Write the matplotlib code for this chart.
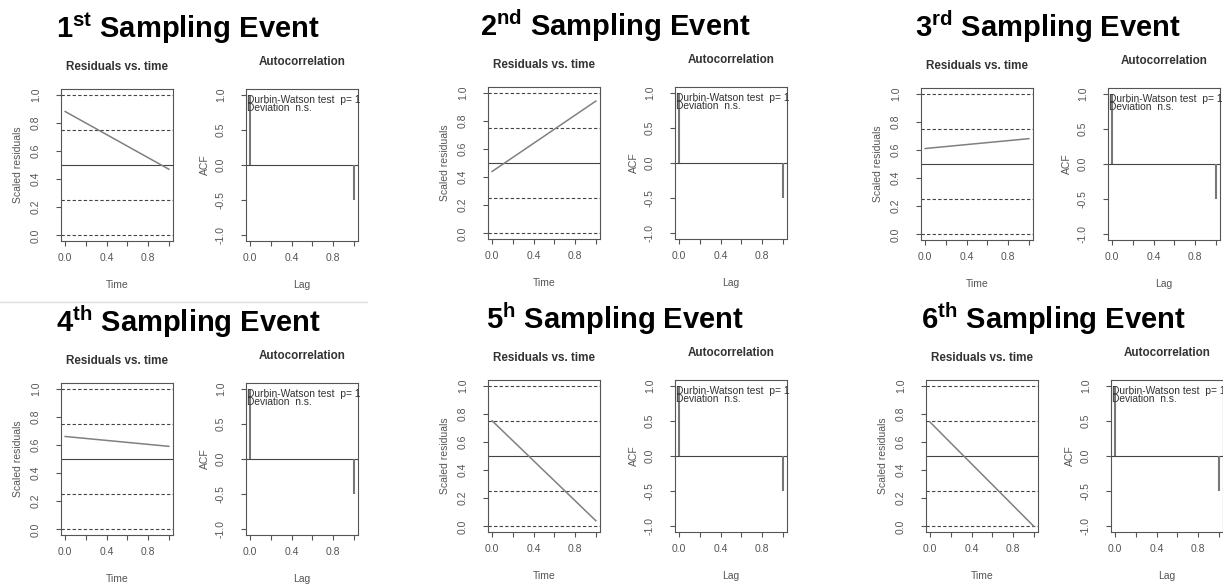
import matplotlib
matplotlib.use("Agg")
import matplotlib.pyplot as plt
from matplotlib.lines import Line2D

plt.rcParams['font.family'] = ['Liberation Sans', 'DejaVu Sans']
plt.rcParams['mathtext.fontset'] = 'custom'
plt.rcParams['mathtext.rm'] = 'Liberation Sans:bold'
plt.rcParams['mathtext.bf'] = 'Liberation Sans:bold'

# Daten der sechs Probenahmen
event_nums = ["1", "2", "3", "4", "5", "6"]
event_suffix = ["st", "nd", "rd", "th", "h", "th"]
time_pts = [0.0, 1.0]
resid_start = [0.88, 0.44, 0.61, 0.66, 0.75, 0.74]
resid_end = [0.47, 0.94, 0.68, 0.59, 0.04, 0.00]
quantiles = [0.0, 0.25, 0.5, 0.75, 1.0]
acf_lags = [0, 1]
acf_vals = [1.0, -0.5]
dw_p = ["1", "1", "1", "1", "1", "1"]
dw_dev = ["n.s.", "n.s.", "n.s.", "n.s.", "n.s.", "n.s."]

res_ticks = [0.0, 0.2, 0.4, 0.6, 0.8, 1.0]
res_tick_labels = ["0.0", "0.2", "0.4", "0.6", "0.8", "1.0"]
x_ticks = [0.0, 0.2, 0.4, 0.6, 0.8, 1.0]
x_tick_labels = ["0.0", "", "0.4", "", "0.8", ""]
acf_ticks = [-1.0, -0.5, 0.0, 0.5, 1.0]
acf_tick_labels = ["-1.0", "-0.5", "0.0", "0.5", "1.0"]

# Layout in Pixeln
W, H = 1223, 585
res_left = [61, 488, 921, 61, 488, 926]
acf_left = [246, 675, 1108, 246, 675, 1111]
box_top = [89, 87, 88, 383, 380, 380]
box_w, box_h = 112, 152

fig = plt.figure(figsize=(W / 100, H / 100), dpi=100)

axis_col = "#555555"
text_col = "#555555"


def rect(left, top):
    return [left / W, 1 - (top + box_h) / H, box_w / W, box_h / H]


def style(ax):
    for s in ax.spines.values():
        s.set_color(axis_col)
        s.set_linewidth(0.8)
    ax.tick_params(axis='both', direction='out', length=3.6, width=0.8,
                   color=axis_col, labelcolor=text_col, labelsize=7.5)
    ax.tick_params(axis='x', pad=5)
    ax.tick_params(axis='y', pad=11)
    plt.setp(ax.get_yticklabels(), rotation=90, va='center')


def ftext(x, y, s, **kw):
    fig.text(x / W, 1 - y / H, s, ha='center', va='center', **kw)


for i in range(6):
    top = box_top[i]

    # Residuen vs. Zeit
    ax = fig.add_axes(rect(res_left[i], top))
    for q in quantiles:
        ls = '-' if q == 0.5 else (0, (3, 2))
        ax.axhline(q, color="#444444", lw=0.8, ls=ls)
    ax.plot(time_pts, [resid_start[i], resid_end[i]], color="#808080", lw=1.1)
    ax.set_xlim(-0.04, 1.04)
    ax.set_ylim(-0.04, 1.04)
    ax.set_xticks(x_ticks)
    ax.set_xticklabels(x_tick_labels)
    ax.set_yticks(res_ticks)
    ax.set_yticklabels(res_tick_labels)
    style(ax)

    # Autokorrelation
    ax2 = fig.add_axes(rect(acf_left[i], top))
    ax2.axhline(0, color="#444444", lw=0.8)
    ax2.vlines(acf_lags, 0, acf_vals, color="#777777", lw=1.5)
    ax2.set_xlim(-0.04, 1.04)
    ax2.set_ylim(-1.08, 1.08)
    ax2.set_xticks(x_ticks)
    ax2.set_xticklabels(x_tick_labels)
    ax2.set_yticks(acf_ticks)
    ax2.set_yticklabels(acf_tick_labels)
    style(ax2)
    ax2.text(0.005, 1 - 11 / box_h, "Durbin-Watson test  p= " + dw_p[i],
             transform=ax2.transAxes, ha='left', va='center', fontsize=7.4, color="#333333")
    ax2.text(0.005, 1 - 19 / box_h, "Deviation  " + dw_dev[i],
             transform=ax2.transAxes, ha='left', va='center', fontsize=7.4, color="#333333")

    # Beschriftungen
    rc = res_left[i] + box_w / 2
    ac = acf_left[i] + box_w / 2
    ftext(rc, top - 22, "Residuals vs. time", fontsize=8.4, fontweight='bold', color="#333333")
    ftext(ac, top - 27, "Autocorrelation", fontsize=8.4, fontweight='bold', color="#333333")
    ftext(res_left[i] - 43, top + box_h / 2, "Scaled residuals", fontsize=7.5, color=text_col, rotation=90)
    ftext(acf_left[i] - 41, top + box_h / 2, "ACF", fontsize=7.5, color=text_col, rotation=90)
    ftext(rc, top + box_h + 44, "Time", fontsize=7.5, color=text_col)
    ftext(ac, top + box_h + 44, "Lag", fontsize=7.5, color=text_col)

    title = event_nums[i] + r"$^{\mathrm{" + event_suffix[i] + r"}}$ Sampling Event"
    ftext(res_left[i] + 127, top - 61, title, fontsize=21, fontweight='bold', color="black")

# Trennlinie unter dem ersten Feld
fig.add_artist(Line2D([0, 367 / W], [1 - 302 / H, 1 - 302 / H], color="#dddddd", lw=1))

fig.savefig("out.png", dpi=100)
